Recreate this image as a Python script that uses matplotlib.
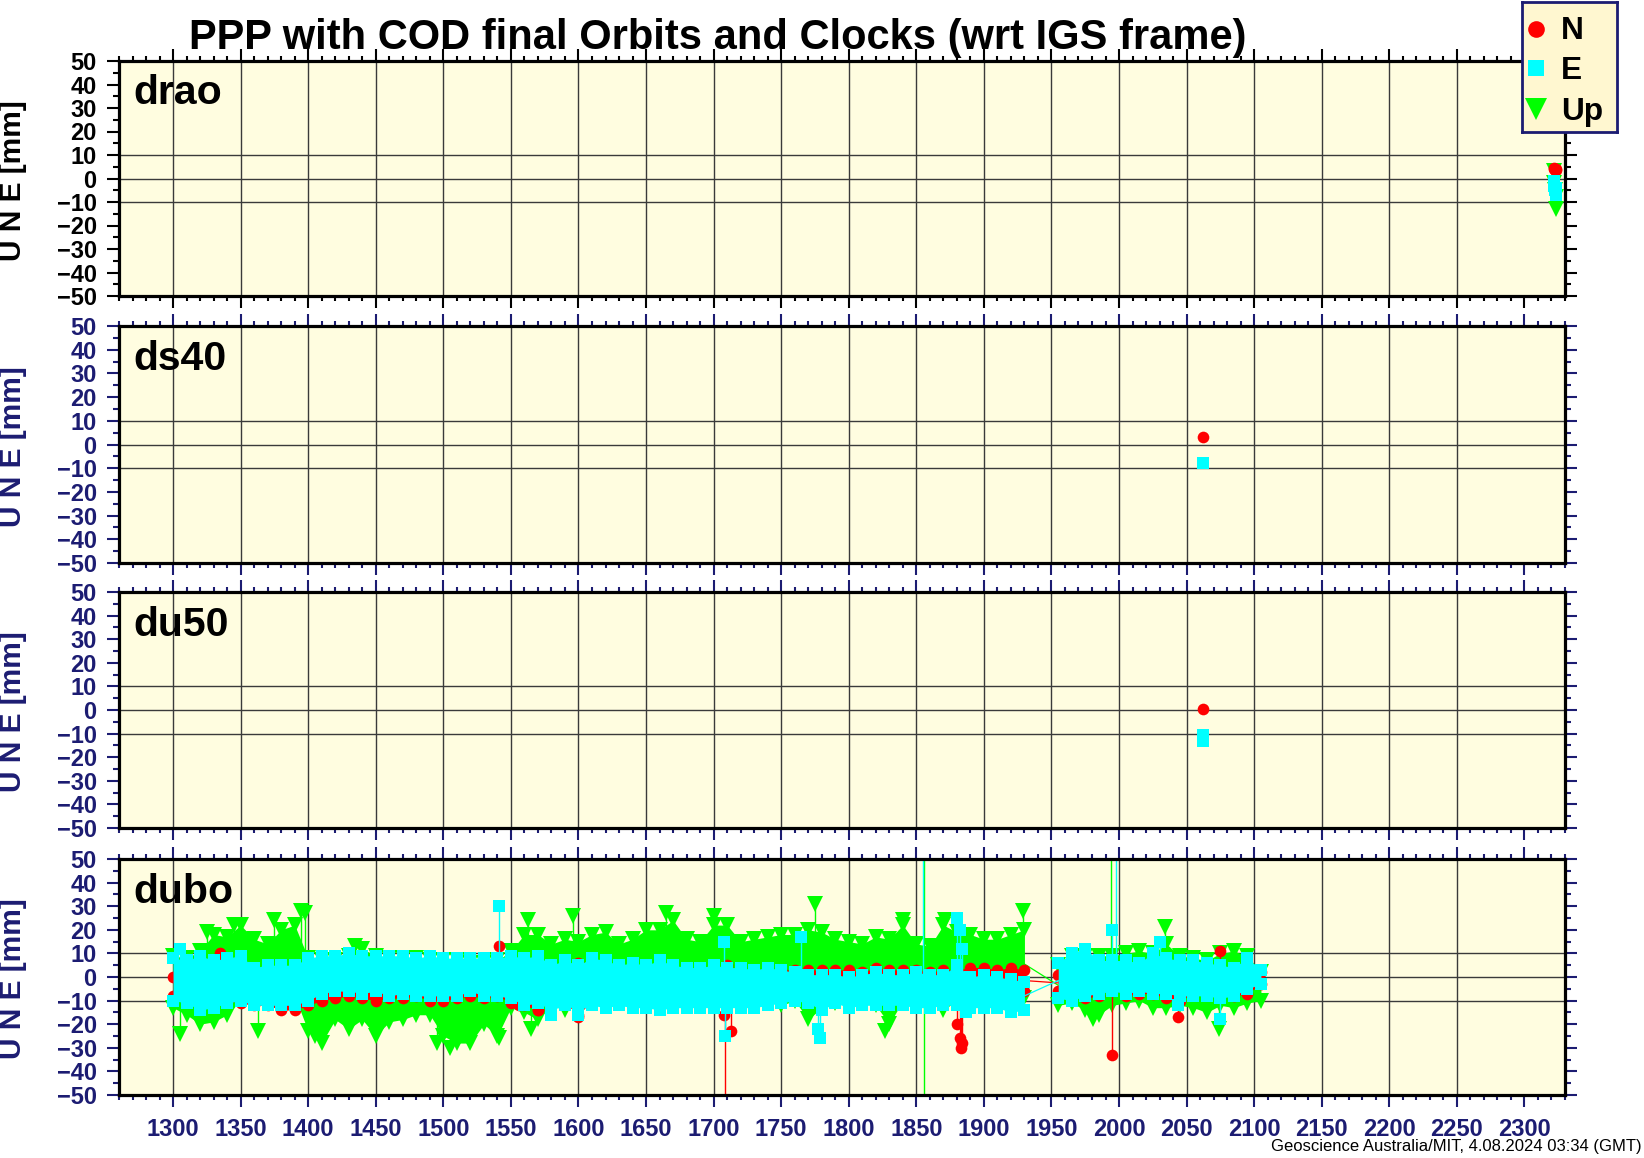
import numpy as np
import matplotlib
matplotlib.use("Agg")
import matplotlib.pyplot as plt
from matplotlib.ticker import MultipleLocator

# ---------------- data ----------------
title = "PPP with COD final Orbits and Clocks (wrt IGS frame)"
stations = ["drao", "ds40", "du50", "dubo"]
footer = "Geoscience Australia/MIT, 4.08.2024 03:34 (GMT)"
legend_labels = ["N", "E", "Up"]

# drao
drao_weeks = [2321.5, 2322, 2322.5, 2323, 2323.5]
drao_n = [4.5, 4, 3.5, 4, 3.5]
drao_e = [-1, -3, -5, -7, -4]
drao_u = [3, -2, -5, -8, -13]
# ds40
ds40_weeks = [2062]
ds40_n = [3.3]
ds40_e = [-8]
# du50
du50_weeks_n = [2062]
du50_n = [0.5]
du50_weeks_e = [2062, 2062.3]
du50_e = [-10.5, -13]

# dubo: envelope of the dense cloud (upper / lower values), two segments
dubo_w1 = [1300, 1310, 1320, 1330, 1340, 1350, 1360, 1370, 1380, 1390,
           1400, 1410, 1420, 1430, 1440, 1450, 1460, 1470, 1480, 1490,
           1500, 1510, 1520, 1530, 1540, 1550, 1560, 1570, 1580, 1590,
           1600, 1610, 1620, 1630, 1640, 1650, 1660, 1670, 1680, 1690,
           1700, 1710, 1720, 1730, 1740, 1750, 1760, 1770, 1780, 1790,
           1800, 1810, 1820, 1830, 1840, 1850, 1860, 1870, 1880, 1890,
           1900, 1910, 1920, 1930]
dubo_w2 = [1955, 1965, 1975, 1985, 1995, 2005, 2015, 2025, 2035, 2045,
           2055, 2065, 2075, 2085, 2095, 2105]

up_hi1 = [9, 8, 11, 18, 17, 22, 16, 14, 20, 22,
          8, 7, 7, 9, 12, 9, 8, 8, 8, 7,
          7, 7, 6, 6, 7, 11, 18, 18, 14, 16,
          15, 18, 19, 14, 16, 20, 20, 24, 16, 15,
          22, 22, 15, 16, 17, 18, 18, 20, 19, 16,
          15, 14, 17, 16, 22, 14, 13, 22, 19, 18,
          16, 16, 18, 20]
up_lo1 = [-13, -16, -20, -19, -16, -10, -8, -8, -7, -8,
          -23, -28, -18, -22, -18, -25, -19, -18, -16, -16,
          -25, -28, -28, -20, -25, -13, -15, -18, -12, -14,
          -10, -9, -8, -9, -8, -8, -8, -9, -8, -9,
          -8, -10, -9, -8, -10, -12, -10, -18, -13, -11,
          -11, -10, -12, -20, -10, -10, -9, -14, -10, -11,
          -9, -9, -8, -9]
up_hi2 = [5, 9, 9, 9, 9, 10, 11, 10, 14, 9, 8, 7, 10, 11, 9, 2]
up_lo2 = [-12, -11, -14, -16, -12, -11, -10, -13, -13, -12, -13, -15, -12, -13, -11, -10]

n_hi1 = [0, 1, 2, 1, 0, 0, -1, 0, -1, 0,
         0, 1, 0, 1, 0, 0, 1, 0, 0, 1,
         0, 0, 1, 0, 1, 2, 4, 3, 3, 4,
         6, 5, 3, 3, 3, 2, 3, 4, 3, 4,
         4, 5, 3, 3, 3, 3, 3, 3, 3, 3,
         3, 2, 4, 3, 3, 3, 2, 3, 3, 4,
         4, 3, 4, 3]
n_lo1 = [-8, -10, -12, -11, -10, -11, -12, -12, -14, -14,
         -12, -10, -9, -8, -9, -10, -9, -9, -8, -10,
         -10, -9, -8, -9, -8, -11, -12, -14, -10, -11,
         -16, -10, -12, -10, -10, -12, -12, -12, -10, -10,
         -12, -10, -9, -8, -8, -8, -7, -7, -8, -7,
         -7, -6, -7, -7, -7, -6, -7, -7, -10, -6,
         -5, -6, -6, -6]
n_hi2 = [1, 3, 4, 3, 3, 3, 2, 3, 3, 3, 3, 2, 3, 1, 4, 2]
n_lo2 = [-6, -8, -9, -8, -5, -8, -7, -7, -9, -10, -7, -6, -6, -8, -7, -3]

e_hi1 = [8, 7, 9, 7, 8, 9, 4, 5, 5, 5,
         8, 9, 9, 10, 9, 9, 9, 9, 8, 9,
         8, 8, 8, 8, 8, 9, 8, 9, 5, 7,
         5, 8, 7, 5, 6, 5, 7, 5, 4, 4,
         5, 4, 4, 3, 4, 3, 2, 1, 1, 1,
         0, 1, 2, 1, 1, 2, 1, 1, 5, 0,
         1, 0, -1, -2]
e_lo1 = [-10, -11, -14, -13, -11, -10, -12, -12, -12, -12,
         -10, -7, -6, -6, -7, -6, -8, -7, -8, -8,
         -8, -8, -6, -8, -8, -9, -12, -11, -14, -12,
         -14, -12, -13, -12, -13, -13, -14, -13, -13, -13,
         -13, -13, -13, -13, -12, -11, -10, -11, -14, -11,
         -13, -12, -12, -12, -12, -13, -13, -12, -12, -13,
         -13, -13, -15, -14]
e_hi2 = [6, 10, 12, 7, 7, 7, 6, 10, 8, 7, 7, 6, 5, 4, 8, 3]
e_lo2 = [-9, -10, -8, -7, -6, -7, -6, -7, -7, -8, -8, -8, -9, -8, -5, -3]

# isolated points / outliers (some beyond the axis range)
up_px = [1305, 1325, 1345, 1363, 1375, 1395, 1398, 1405, 1435, 1495, 1505, 1541,
         1563, 1565, 1596, 1665, 1700, 1775, 1827, 1840, 1855.4, 1855.6, 1871,
         1929, 1981, 1994, 2034, 2074]
up_py = [-24, 19, 22, -23, 24, 28, 27, -25, 13, -28, -30, -26,
         24, -22, 26, 27, 26, 31, -23, 24, 200, -200, 24,
         28, -18, 200, 21, -22]
n_px = [1335, 1541, 1556, 1570, 1600, 1708, 1708.3, 1713, 1880, 1882, 1883,
        1884, 1995, 2044, 2075]
n_py = [10, 13, -12, -14, -17, -16, -200, -23, -20, -26, -30,
        -28, -33, -17, 11]
e_px = [1305, 1541, 1580, 1600, 1708, 1708.2, 1765, 1777, 1779, 1855.2, 1880,
        1882, 1884, 1887, 1995, 1998, 2030, 2044, 2075]
e_py = [12, 30, -16, -16, 15, -25, 17, -22, -26, 200, 25,
        20, 12, -15, 20, 200, 15, -12, -18]

# ---------------- style ----------------
W, H = 1644, 1158
BG = "#fffde0"
LEGBG = "#fff7d0"
NAVY = "#1c1c72"
RED, CYAN, GREEN = "#ff0000", "#00ffff", "#00ff00"
FONT = ["Liberation Sans", "DejaVu Sans"]
NARROW = ["Liberation Sans Narrow", "Liberation Sans", "DejaVu Sans"]
plt.rcParams["font.family"] = FONT
plt.rcParams["font.weight"] = "bold"

fig = plt.figure(figsize=(W / 100, H / 100), dpi=100)

panel_px = [(61, 296), (326, 563), (592, 828), (859, 1095)]
left_px, right_px = 119, 1565
grid_weeks = [1300, 1350, 1400, 1450, 1500, 1550, 1600, 1650, 1700, 1750,
              1800, 1850, 1900, 1950, 2000, 2050, 2100, 2150, 2200, 2250]
grid_mm = [-10, 0, 10]

MS_O, MS_S, MS_V = 8.4, 8.0, 11.0
axes = []
for i, (st, (top, bot)) in enumerate(zip(stations, panel_px)):
    ax = fig.add_axes([left_px / W, 1 - bot / H, (right_px - left_px) / W, (bot - top) / H])
    ax.set_facecolor(BG)
    ax.set_xlim(1260, 2330)
    ax.set_ylim(-50, 50)
    tc = "black" if i == 0 else NAVY
    ax.xaxis.set_major_locator(MultipleLocator(50))
    ax.xaxis.set_minor_locator(MultipleLocator(10))
    ax.yaxis.set_major_locator(MultipleLocator(10))
    ax.yaxis.set_minor_locator(MultipleLocator(5))
    ax.tick_params(axis="both", which="both", direction="out", top=True, right=True,
                   color=tc, labelcolor=tc, width=1.5)
    ax.tick_params(axis="both", which="major", length=8.6)
    ax.tick_params(axis="x", which="minor", length=3.8)
    ax.tick_params(axis="y", which="minor", length=4.3)
    ax.tick_params(axis="y", labelsize=17, pad=7.5)
    ax.tick_params(axis="x", labelsize=17, pad=8.0, labelbottom=(i == 3))
    for s in ax.spines.values():
        s.set_linewidth(2.3)
        s.set_color("black")
        s.set_zorder(10)
    for g in grid_weeks:
        ax.axvline(g, color="#3a3a3a", lw=1.0, zorder=1)
    for g in grid_mm:
        ax.axhline(g, color="#3a3a3a", lw=1.0, zorder=1)
    ax.text(0.0097, 0.815, st, transform=ax.transAxes, fontsize=29.5,
            fontweight="bold", color="black", ha="left", va="baseline", zorder=12)
    fig.text(13 / W, 1 - ((top + bot) / 2 + 2) / H, "U N E [mm]", rotation=90,
             ha="center", va="center", fontsize=21.5, fontweight="bold", color=tc)
    axes.append(ax)

# drao
ax = axes[0]
ax.plot(drao_weeks, drao_u, color=GREEN, marker="v", ms=MS_V, mew=0, lw=0.8, zorder=3)
ax.plot(drao_weeks, drao_n, color=RED, marker="o", ms=MS_O, mew=0, lw=0.8, zorder=4)
ax.plot(drao_weeks, drao_e, color=CYAN, marker="s", ms=MS_S, mew=0, lw=0.8, zorder=5)
# ds40
ax = axes[1]
ax.plot(ds40_weeks, ds40_n, color=RED, marker="o", ms=MS_O, mew=0, ls="none", zorder=4)
ax.plot(ds40_weeks, ds40_e, color=CYAN, marker="s", ms=MS_S, mew=0, ls="none", zorder=5)
# du50
ax = axes[2]
ax.plot(du50_weeks_n, du50_n, color=RED, marker="o", ms=MS_O, mew=0, ls="none", zorder=4)
ax.plot(du50_weeks_e, du50_e, color=CYAN, marker="s", ms=MS_S, mew=0, lw=0.8, zorder=5)

# dubo
ax = axes[3]
series = [
    (up_hi1, up_lo1, up_hi2, up_lo2, up_px, up_py, GREEN, "v", MS_V, 3),
    (n_hi1, n_lo1, n_hi2, n_lo2, n_px, n_py, RED, "o", MS_O, 4),
    (e_hi1, e_lo1, e_hi2, e_lo2, e_px, e_py, CYAN, "s", MS_S, 5),
]
for hi1, lo1, hi2, lo2, px, py, col, mk, ms, z in series:
    for w, hi, lo in ((dubo_w1, hi1, lo1), (dubo_w2, hi2, lo2)):
        w = np.asarray(w, float)
        hi = np.asarray(hi, float)
        lo = np.asarray(lo, float)
        ax.fill_between(w, lo, hi, color=col, lw=0, zorder=z)
        ax.plot(w, hi, ls="none", marker=mk, ms=ms, mew=0, color=col, zorder=z)
        ax.plot(w, lo, ls="none", marker=mk, ms=ms, mew=0, color=col, zorder=z)
    # line across the data gap
    ax.plot([dubo_w1[-1], dubo_w2[0]],
            [(hi1[-1] + lo1[-1]) / 2, (hi2[0] + lo2[0]) / 2], color=col, lw=0.9, zorder=z)
    wall = np.asarray(dubo_w1 + dubo_w2, float)
    mid = (np.asarray(hi1 + hi2, float) + np.asarray(lo1 + lo2, float)) / 2
    base = np.interp(px, wall, mid)
    ax.vlines(px, base, py, color=col, lw=1.0, zorder=z)
    ax.plot(px, py, ls="none", marker=mk, ms=ms, mew=0, color=col, zorder=z)

# title and footer
fig.text(718 / W, 1 - 49 / H, title, ha="center", va="baseline", fontsize=30,
         fontweight="bold", color="black")
fig.text(1642 / W, 1 - 1151 / H, footer, ha="right", va="baseline", fontsize=12,
         fontweight="normal", family=NARROW, color="black")

# legend box
lax = fig.add_axes([1522 / W, 1 - 132 / H, 95 / W, 130 / H])
lax.set_facecolor(LEGBG)
lax.set_xlim(0, 1)
lax.set_ylim(0, 1)
lax.set_xticks([])
lax.set_yticks([])
for s in lax.spines.values():
    s.set_color(NAVY)
    s.set_linewidth(2.0)
leg_y = [0.795, 0.49, 0.175]
leg_style = [(RED, "o", 12), (CYAN, "s", 11.3), (GREEN, "v", 16.5)]
for lab, yy, (col, mk, ms) in zip(legend_labels, leg_y, leg_style):
    lax.plot([0.147], [yy], marker=mk, ms=ms, mew=0, color=col, ls="none")
    lax.text(0.41, yy - 0.02, lab, fontsize=22.8, fontweight="bold", ha="left", va="center",
             color="black")

fig.savefig("out.png", dpi=100, facecolor="white")
